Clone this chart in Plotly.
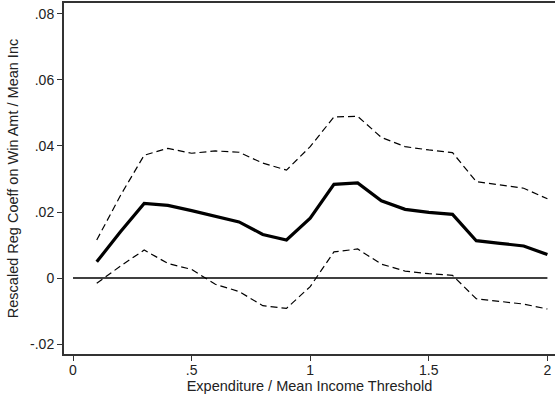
import plotly.graph_objects as go

# Expenditure thresholds (multiples of mean income)
threshold = [0.1, 0.2, 0.3, 0.4, 0.5, 0.6, 0.7, 0.8, 0.9, 1.0,
             1.1, 1.2, 1.3, 1.4, 1.5, 1.6, 1.7, 1.8, 1.9, 2.0]

# Rescaled regression coefficient and 95% confidence bounds
coef = [0.0049, 0.0140, 0.0226, 0.0220, 0.0204, 0.0187, 0.0170, 0.0132, 0.0115, 0.0181,
        0.0284, 0.0288, 0.0234, 0.0208, 0.0199, 0.0193, 0.0113, 0.0105, 0.0097, 0.0071]
upper = [0.0115, 0.0250, 0.0372, 0.0393, 0.0378, 0.0385, 0.0381, 0.0348, 0.0327, 0.0398,
         0.0488, 0.0490, 0.0426, 0.0398, 0.0388, 0.0380, 0.0292, 0.0282, 0.0272, 0.0240]
lower = [-0.0016, 0.0036, 0.0085, 0.0044, 0.0026, -0.0019, -0.0041, -0.0084, -0.0092, -0.0026,
         0.0079, 0.0088, 0.0042, 0.0021, 0.0013, 0.0008, -0.0063, -0.0072, -0.0079, -0.0094]

x_ticks = [0, 0.5, 1, 1.5, 2]
x_tick_text = ["0", ".5", "1", "1.5", "2"]
y_ticks = [-0.02, 0, 0.02, 0.04, 0.06, 0.08]
y_tick_text = ["-.02", "0", ".02", ".04", ".06", ".08"]

FONT = "Liberation Sans, Arial, sans-serif"

fig = go.Figure()

fig.add_trace(go.Scatter(x=threshold, y=upper, mode="lines",
                         line=dict(color="black", width=1.2, dash="7px,4px")))
fig.add_trace(go.Scatter(x=threshold, y=lower, mode="lines",
                         line=dict(color="black", width=1.2, dash="7px,4px")))
fig.add_trace(go.Scatter(x=threshold, y=coef, mode="lines",
                         line=dict(color="black", width=3.2)))

# Reference line at zero
fig.add_shape(type="line", x0=0, x1=2, y0=0, y1=0, xref="x", yref="y",
              line=dict(color="black", width=1.5), layer="below")

axis_common = dict(
    showgrid=False, zeroline=False, showline=True, linecolor="#333333", linewidth=2,
    ticks="outside", ticklen=5, tickwidth=1, tickcolor="#333333",
    tickfont=dict(family=FONT, size=14, color="#222222"),
)

fig.update_xaxes(
    range=[-0.038, 2.032], tickvals=x_ticks, ticktext=x_tick_text,
    mirror=True, ticklabelstandoff=-3,
    title=dict(text="Expenditure / Mean Income Threshold", standoff=0,
               font=dict(family=FONT, size=14.5, color="#222222")),
    **axis_common,
)
fig.update_yaxes(
    range=[-0.02303, 0.08333], tickvals=y_ticks, ticktext=y_tick_text,
    title=dict(text="Rescaled Reg Coeff on Win Amt / Mean Inc", standoff=8,
               font=dict(family=FONT, size=14.5, color="#222222")),
    **axis_common,
)

fig.update_layout(
    width=555, height=398,
    margin=dict(l=64, r=0, t=3, b=44),
    paper_bgcolor="white", plot_bgcolor="white",
    showlegend=False,
)

fig.write_html("out.html")
